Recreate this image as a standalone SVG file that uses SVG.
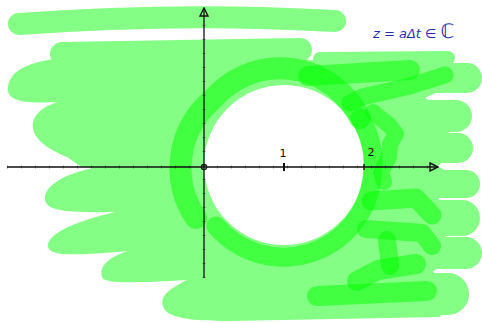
<svg xmlns="http://www.w3.org/2000/svg" width="482" height="323" viewBox="0 0 482 323">
<defs>
<style>
.lg{fill:none;stroke:#84fe84;stroke-linecap:round;stroke-linejoin:round}
.dg{fill:none;stroke:#00ff00;stroke-opacity:0.5;stroke-linecap:round;stroke-linejoin:round}
.ax{stroke:#111;stroke-width:1.3;fill:none}
.lbl{font-family:"DejaVu Sans",sans-serif;font-size:11px;fill:#111}
</style>
<marker id="ah" viewBox="0 0 10 10" refX="9" refY="5" markerWidth="10" markerHeight="10" markerUnits="userSpaceOnUse" orient="auto">
<path d="M1,1 L9,5 L1,9 Z" fill="none" stroke="#111" stroke-width="1.4"/>
</marker>
</defs>
<rect width="482" height="323" fill="#fff"/>
<g id="scribble-light">
<path fill="#84fe84" d="M60,58 C30,62 9,70 8,88 C7,100 20,104 58,102 C40,107 31,118 33,128 C35,141 50,150 67,157 L80,166 L93,168 C60,175 43,188 45,200 C47,210 62,213 115,212 C72,222 46,235 48,247 C50,256 72,256 128,251 C102,259 100,270 102,277 C104,284 132,283 187,280 C166,290 160,298 163,306 C166,318 190,321 230,321 L440,317 L448,294 L433,271 L466,253 L445,236 L462,218 L438,199 L466,184 L438,166 L458,148 L448,134 L456,116 L425,98 L467,78 L440,62 L300,60 Z"/>
<path class="lg" stroke-width="22" d="M19,24 Q180,12 335,21"/>
<path class="lg" stroke-width="24" d="M62,54 L300,50"/>
<path class="lg" stroke-width="14" d="M320,59 L448,58"/>
<path class="lg" stroke-width="30" d="M330,78 L467,78"/>
<path class="lg" stroke-width="32" d="M330,116 L456,116"/>
<path class="lg" stroke-width="30" d="M330,148 L458,148"/>
<path class="lg" stroke-width="28" d="M330,184 L466,184"/>
<path class="lg" stroke-width="36" d="M330,218 L462,218"/>
<path class="lg" stroke-width="32" d="M330,253 L466,253"/>
<path class="lg" stroke-width="42" d="M200,298 L448,294"/>
</g>
<g id="hole">
<circle cx="284" cy="165" r="80" fill="#fff"/>
</g>
<g id="scribble-dark">
<path class="dg" stroke-width="22" d="M196,218 A89,89 0 0 1 212,100 A89,89 0 0 1 360,118"/>
<path class="dg" stroke-width="19" d="M360,118 A89,89 0 0 1 372,178 A89,89 0 0 1 216,226"/>
<path class="dg" stroke-width="20" d="M308,76 L410,70"/>
<path class="dg" stroke-width="17" d="M445,75 L410,86 L362,97 L350,103"/>
<path class="dg" stroke-width="16" d="M373,112 L390,126 L396,134 L390,144 L389,157 L381,172 L384,182"/>
<path class="dg" stroke-width="19" d="M371,201 L416,198 L432,215"/>
<path class="dg" stroke-width="18" d="M366,229 L422,233 L432,246"/>
<path class="dg" stroke-width="18" d="M387,240 L390,266"/>
<path class="dg" stroke-width="20" d="M357,281 L378,270 L416,264"/>
<path class="dg" stroke-width="20" d="M317,296 L427,291"/>
</g>
<g id="axes">
<line class="ax" x1="7" y1="167" x2="438" y2="167" marker-end="url(#ah)"/>
<line class="ax" x1="204" y1="278" x2="204" y2="8" marker-end="url(#ah)"/>
<line x1="7" y1="167" x2="438" y2="167" stroke="#111" stroke-opacity="0.45" stroke-width="3" stroke-dasharray="1 13"/>
<line x1="204" y1="278" x2="204" y2="18" stroke="#111" stroke-opacity="0.45" stroke-width="3" stroke-dasharray="1 13"/>
<circle cx="204" cy="167" r="2.6" fill="none" stroke="#111" stroke-width="1.3"/>
<line x1="284" y1="163" x2="284" y2="171" stroke="#111" stroke-width="2"/>
<line x1="364" y1="164" x2="364" y2="170" stroke="#111" stroke-width="1.4"/>
</g>
<g id="labels">
<text class="lbl" x="283" y="157" text-anchor="middle">1</text>
<text class="lbl" x="371" y="156" text-anchor="middle">2</text>
<text x="373" y="38" font-family="DejaVu Sans,sans-serif" font-style="italic" font-size="13" fill="#1e2fb0">z = aΔt ∈ <tspan font-size="20" font-style="normal">ℂ</tspan></text>
</g>
</svg>
